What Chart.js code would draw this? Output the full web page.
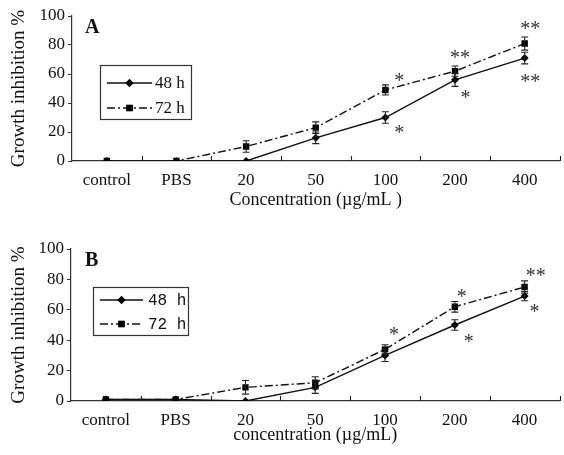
<!DOCTYPE html>
<html>
<head>
<meta charset="utf-8">
<script src="https://cdn.jsdelivr.net/npm/chart.js@4.4.1/dist/chart.umd.min.js"></script>
<style>
  body { margin: 0; background: #fff; }
  .panel { position: absolute; left: 0; width: 564px; }
  #panelA { top: 0; height: 215px; }
  #panelB { top: 230px; height: 225px; }
</style>
</head>
<body>
<div class="panel" id="panelA"><canvas id="chartA"></canvas></div>
<div class="panel" id="panelB"><canvas id="chartB"></canvas></div>
<script>
"use strict";
// categories shared by both panels
const categories = ['control', 'PBS', '20', '50', '100', '200', '400'];

// panel A values (%)
const a48 = [0, 0, 0, 16, 30, 56, 71];
const a48Err = [0, 0, 0, 4, 4, 4.5, 4];
const a72 = [0, 0, 10, 23, 49, 62, 81];
const a72Err = [0, 0, 4, 4, 3.5, 3.5, 4.5];
// significance marks: category index, value, text
const aStarIdx = [4.2, 4.2, 5.07, 5.15, 6.08, 6.08];
const aStarVal = [59, 23, 75, 47, 95, 58];
const aStarText = ['*', '*', '**', '*', '**', '**'];

// panel B values (%)
const b48 = [1, 1, 0, 9, 30, 50, 69];
const b48Err = [0, 0, 0, 4, 4, 3.5, 3];
const b72 = [1, 1, 9, 12, 34, 62, 75];
const b72Err = [0, 0, 4.5, 4, 3, 3.5, 4];
const bStarIdx = [4.13, 5.1, 5.2, 6.16, 6.14];
const bStarVal = [47, 72, 42, 86, 62];
const bStarText = ['*', '*', '*', '**', '*'];

const yTicks = [0, 20, 40, 60, 80, 100];

const serif = '"Liberation Serif", "Times New Roman", serif';

// error bars, inward x ticks, stars, legend box, panel letter
const extras = {
    id: 'extras',
    afterDatasetsDraw(chart, args, opts) {
        const ctx = chart.ctx;
        const xs = chart.scales.x, ys = chart.scales.y;
        ctx.save();
        ctx.strokeStyle = '#222';
        ctx.lineWidth = 1.1;
        // error bars
        chart.data.datasets.forEach((ds, di) => {
            const meta = chart.getDatasetMeta(di);
            ds.errors.forEach((e, i) => {
                if (!e) return;
                const x = meta.data[i].x;
                const top = ys.getPixelForValue(ds.data[i] + e);
                const bot = ys.getPixelForValue(ds.data[i] - e);
                ctx.beginPath();
                ctx.moveTo(x, top); ctx.lineTo(x, bot);
                ctx.moveTo(x - 3.5, top); ctx.lineTo(x + 3.5, top);
                ctx.moveTo(x - 3.5, bot); ctx.lineTo(x + 3.5, bot);
                ctx.stroke();
            });
        });
        // x ticks pointing up, at category boundaries
        ctx.beginPath();
        for (let i = 1; i <= categories.length; i++) {
            const x = Math.round(xs.getPixelForValue(i - 0.5)) + 0.5;
            ctx.moveTo(x, xs.top);
            ctx.lineTo(x, xs.top - 5);
        }
        ctx.stroke();
        // stars
        ctx.fillStyle = '#333';
        ctx.font = '20px ' + serif;
        ctx.textAlign = 'center';
        ctx.textBaseline = 'middle';
        opts.starIdx.forEach((idx, i) => {
            ctx.fillText(opts.starText[i], xs.getPixelForValue(idx), ys.getPixelForValue(opts.starVal[i]) + 6);
        });
        // panel letter
        ctx.fillStyle = '#111';
        ctx.font = 'bold 20px ' + serif;
        ctx.textAlign = 'left';
        ctx.textBaseline = 'alphabetic';
        ctx.fillText(opts.letter, opts.letterX, opts.letterY);
        // legend
        const L = opts.legend;
        ctx.lineWidth = 1.2;
        ctx.strokeStyle = '#333';
        ctx.strokeRect(L.x + 0.5, L.y + 0.5, L.w, L.h);
        ctx.font = L.font;
        ctx.textBaseline = 'middle';
        chart.data.datasets.forEach((ds, di) => {
            const ry = L.rowY[di];
            ctx.save();
            ctx.strokeStyle = ds.borderColor;
            ctx.lineWidth = ds.borderWidth;
            ctx.setLineDash(ds.borderDash || []);
            ctx.beginPath();
            ctx.moveTo(L.lineX0, ry); ctx.lineTo(L.lineX1, ry);
            ctx.stroke();
            ctx.restore();
            ctx.fillStyle = '#000';
            Chart.helpers.drawPoint(ctx, {pointStyle: ds.pointStyle, radius: ds.pointRadius, borderWidth: 0},
                (L.lineX0 + L.lineX1) / 2, ry);
            ctx.fill();
            ctx.fillStyle = '#111';
            ctx.fillText(ds.label, L.textX, ry + 1);
        });
        ctx.restore();
    }
};

function makeChart(id, s48, e48, s72, e72, xTitle, axisLeft, axisRight, areaTop, bottomH, titleBottom, extra) {
    return new Chart(document.getElementById(id), {
        type: 'line',
        data: {
            labels: categories,
            datasets: [{
                label: '48 h',
                data: s48,
                errors: e48,
                borderColor: '#111',
                borderWidth: 1.4,
                pointStyle: 'rectRot',
                pointRadius: 4,
                pointBackgroundColor: '#000',
                pointBorderWidth: 0,
                tension: 0
            }, {
                label: '72 h',
                data: s72,
                errors: e72,
                borderColor: '#111',
                borderWidth: 1.4,
                borderDash: [8, 3, 2, 3],
                pointStyle: 'rect',
                pointRadius: 4.5,
                pointBackgroundColor: '#000',
                pointBorderWidth: 0,
                tension: 0
            }]
        },
        options: {
            responsive: true,
            maintainAspectRatio: false,
            animation: false,
            events: [],
            layout: { padding: { left: 0, right: axisRight, top: areaTop, bottom: 0 } },
            plugins: {
                legend: { display: false },
                tooltip: { enabled: false },
                extras: extra
            },
            scales: {
                x: {
                    offset: true,
                    grid: { display: false },
                    border: { color: '#333', width: 1.2 },
                    ticks: { color: '#111', font: { family: serif, size: 17 }, padding: 1 },
                    title: { display: true, text: xTitle, color: '#111', font: { family: serif, size: 18 }, padding: { top: 0, bottom: titleBottom } },
                    afterFit(scale) { scale.height = bottomH; }
                },
                y: {
                    min: 0,
                    max: 100,
                    afterBuildTicks(scale) { scale.ticks = yTicks.map(v => ({ value: v })); },
                    grid: { drawOnChartArea: false, tickLength: 4, color: '#333' },
                    border: { color: '#333', width: 1.2 },
                    ticks: { color: '#111', font: { family: serif, size: 17 }, padding: 3 },
                    title: { display: true, text: 'Growth inhibition %', color: '#111', font: { family: serif, size: 19 }, padding: { top: 8, bottom: 0 } },
                    afterFit(scale) { scale.width = axisLeft; }
                }
            }
        },
        plugins: [extras]
    });
}

makeChart('chartA', a48, a48Err, a72, a72Err, 'Concentration (\u00b5g/mL )', 72, 0, 16, 54, 4, {
    starIdx: aStarIdx, starVal: aStarVal, starText: aStarText,
    letter: 'A', letterX: 85, letterY: 33,
    legend: { x: 100, y: 65, w: 91, h: 54, rowY: [83, 108], lineX0: 107, lineX1: 152, textX: 155, font: '17px ' + serif }
});

makeChart('chartB', b48, b48Err, b72, b72Err, 'concentration (\u00b5g/mL)', 71, 4, 19, 54, 9, {
    starIdx: bStarIdx, starVal: bStarVal, starText: bStarText,
    letter: 'B', letterX: 85, letterY: 36,
    legend: { x: 93, y: 57, w: 95, h: 48, rowY: [70, 94], lineX0: 100, lineX1: 143, textX: 148, font: '16px "Liberation Mono", monospace' }
});
</script>
</body>
</html>
